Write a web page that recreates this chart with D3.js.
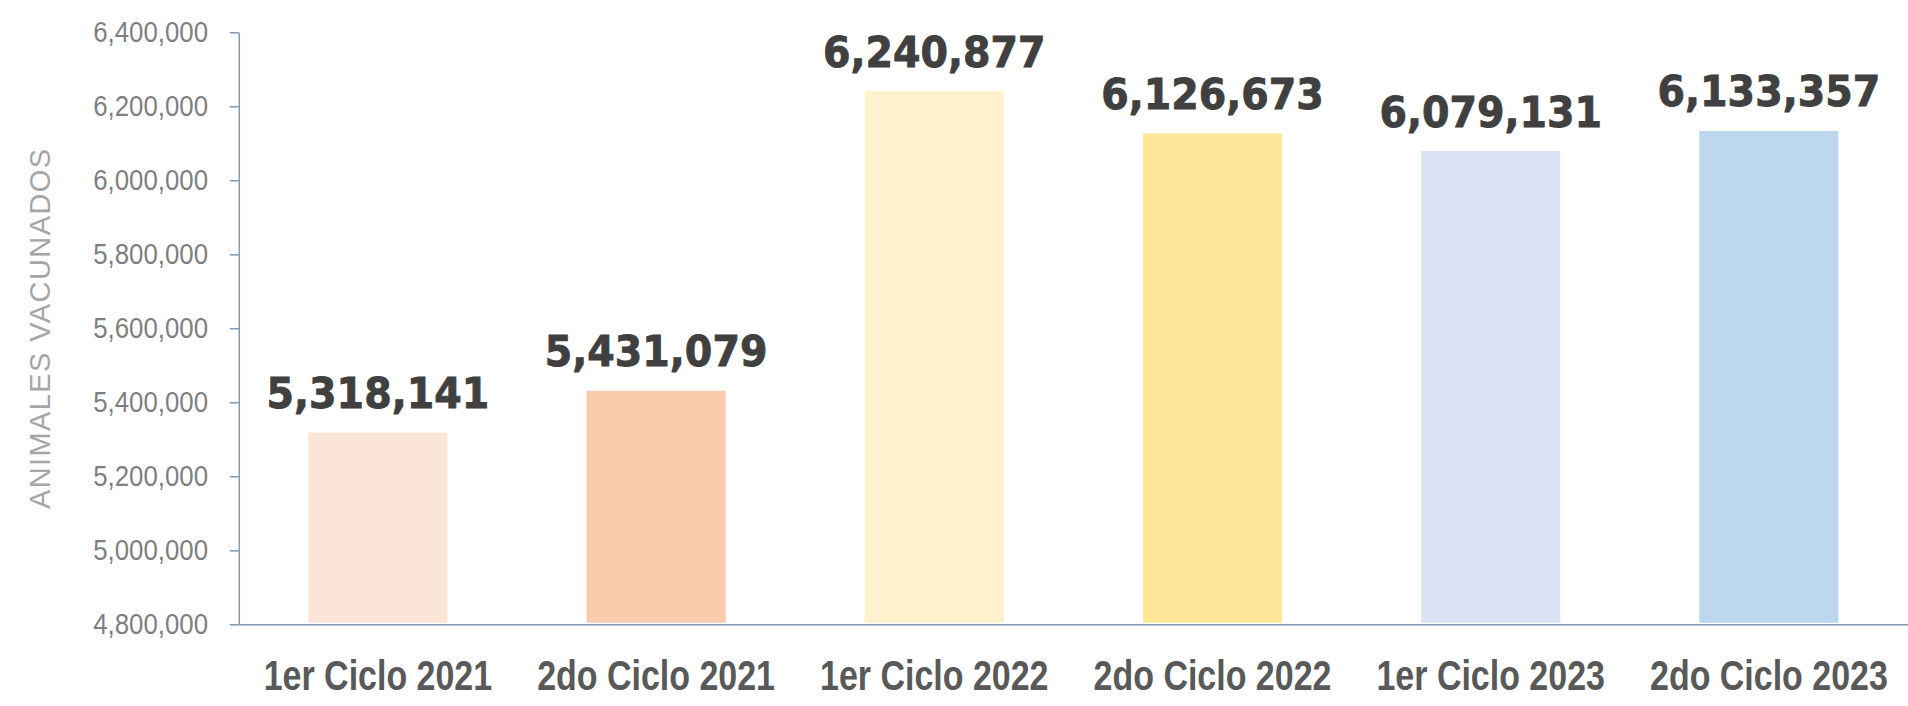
<!DOCTYPE html>
<html>
<head>
<meta charset="utf-8">
<script src="https://cdn.jsdelivr.net/npm/d3@7/dist/d3.min.js"></script>
<style>
  html, body { margin: 0; padding: 0; background: #ffffff; }
  svg { display: block; }
</style>
</head>
<body>
<svg id="chart" width="1908" height="706"></svg>
<script>
// ---- data ----
const categories = ["1er Ciclo 2021", "2do Ciclo 2021", "1er Ciclo 2022", "2do Ciclo 2022", "1er Ciclo 2023", "2do Ciclo 2023"];
const values = [5318141, 5431079, 6240877, 6126673, 6079131, 6133357];
const barColors = ["#FBE5D6", "#F8CBAD", "#FFF2CC", "#FFE699", "#DAE3F3", "#BDD7EE"];
const yTicks = [4800000, 5000000, 5200000, 5400000, 5600000, 5800000, 6000000, 6200000, 6400000];
const yTitle = "ANIMALES VACUNADOS";

(function () {
// ---- layout ----
const plotLeft = 238.8, plotRight = 1908, plotTop = 32.3, plotBottom = 624.3;
const axisColor = "#8497B0";

const svg = d3.select("#chart");

const x = d3.scaleBand().domain(categories).range([plotLeft, plotRight]).paddingInner(0.5).paddingOuter(0.25);
const y = d3.scaleLinear().domain([yTicks[0], yTicks[yTicks.length - 1]]).range([plotBottom, plotTop]);

// bars
svg.append("g").selectAll("rect")
  .data(categories)
  .join("rect")
  .attr("x", d => x(d))
  .attr("width", x.bandwidth())
  .attr("y", (d, i) => y(values[i]))
  .attr("height", (d, i) => y(yTicks[0]) - y(values[i]) - 1.5)
  .attr("fill", (d, i) => barColors[i]);

// y axis
const tickSx = 0.89;
const yAxis = svg.append("g")
  .attr("transform", `translate(${plotLeft},0)`)
  .call(d3.axisLeft(y).tickValues(yTicks).tickFormat(d3.format(",")).tickSize(9).tickSizeOuter(0));
yAxis.select(".domain").attr("stroke", axisColor).attr("stroke-width", 1.5);
yAxis.selectAll(".tick line").attr("stroke", axisColor).attr("stroke-width", 1.5);
yAxis.selectAll(".tick text")
  .attr("fill", "#7F7F7F")
  .attr("font-family", "'Liberation Sans', Arial, sans-serif")
  .attr("font-size", 29)
  .attr("x", -30.8 / tickSx)
  .attr("dy", "0.3em")
  .attr("transform", `scale(${tickSx},1)`);

// x axis
const catSx = 0.79;
const xAxis = svg.append("g")
  .attr("transform", `translate(0,${plotBottom})`)
  .call(d3.axisBottom(x).tickSize(0).tickSizeOuter(0));
xAxis.select(".domain").attr("stroke", axisColor).attr("stroke-width", 1.5);
xAxis.selectAll(".tick text")
  .attr("fill", "#595959")
  .attr("font-family", "'Liberation Sans', Arial, sans-serif")
  .attr("font-weight", "bold")
  .attr("font-size", 43)
  .attr("y", 66.2)
  .attr("dy", 0)
  .attr("transform", `scale(${catSx},1)`);

// value labels
const valSx = 0.92;
const fmt = d3.format(",");
svg.append("g").selectAll("text")
  .data(categories)
  .join("text")
  .attr("transform", (d, i) => `translate(${x(d) + x.bandwidth() / 2},${y(values[i]) - 24.5}) scale(${valSx},1)`)
  .attr("text-anchor", "middle")
  .attr("font-family", "'DejaVu Sans', sans-serif")
  .attr("font-weight", "bold")
  .attr("font-size", 43)
  .attr("fill", "#404040")
  .attr("stroke", "#404040")
  .attr("stroke-width", 0.9)
  .text((d, i) => fmt(values[i]));

// y axis title
svg.append("text")
  .attr("transform", `translate(50,${(plotTop + plotBottom) / 2}) rotate(-90)`)
  .attr("text-anchor", "middle")
  .attr("font-family", "'Liberation Sans', Arial, sans-serif")
  .attr("font-size", 29)
  .attr("letter-spacing", 1.4)
  .attr("fill", "#A6A6A6")
  .text(yTitle);
})();
</script>
</body>
</html>
